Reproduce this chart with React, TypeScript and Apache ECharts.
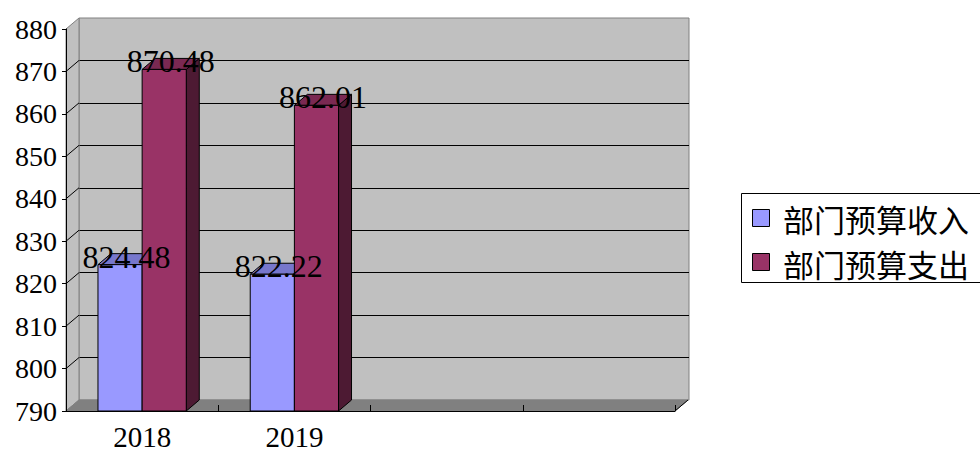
import React, { useEffect, useRef } from "react";
import * as echarts from "echarts";

const categories = ["2018", "2019", "", ""];
const seriesNames = ["部门预算收入", "部门预算支出"];
const incomeValues = [824.48, 822.22];
const expenseValues = [870.48, 862.01];
const wallGridValues = [800, 810, 820, 830, 840, 850, 860, 870];
const Y_MIN = 790;
const Y_MAX = 880;
const Y_STEP = 10;

const DX = 13;
const DY = 11;
const FRONT = { left: 66, top: 29, width: 609, height: 382 };
const SERIF = "Liberation Serif";
const CJK = "Noto Sans CJK SC";

const palette = [
  { front: "#9999FF", top: "#7777CC", side: "#5C5C99" },
  { front: "#993366", top: "#7A2952", side: "#4D1A33" },
];

function barRender(idx: number) {
  return (params: any, api: any) => {
    const cat = api.value(0);
    const v = api.value(1);
    const [cx, yTop] = api.coord([cat, v]);
    const yBase = api.coord([cat, Y_MIN])[1];
    const band = api.size([1, 0])[0];
    const w = band * 0.29;
    const x0 = idx === 0 ? cx - w : cx;
    const c = palette[idx];
    return {
      type: "group",
      children: [
        {
          type: "polygon",
          shape: { points: [[x0 + w, yTop], [x0 + w + DX, yTop - DY], [x0 + w + DX, yBase - DY], [x0 + w, yBase]] },
          style: { fill: c.side, stroke: "#000", lineWidth: 1 },
        },
        {
          type: "polygon",
          shape: { points: [[x0, yTop], [x0 + w, yTop], [x0 + w + DX, yTop - DY], [x0 + DX, yTop - DY]] },
          style: { fill: c.top, stroke: "#000", lineWidth: 1 },
        },
        {
          type: "rect",
          shape: { x: x0, y: yTop, width: w, height: yBase - yTop },
          style: { fill: c.front, stroke: "#000", lineWidth: 1 },
        },
      ],
    };
  };
}

function labelRender(idx: number) {
  return (params: any, api: any) => {
    const cat = api.value(0);
    const v = api.value(1);
    const [cx, yTop] = api.coord([cat, v]);
    const band = api.size([1, 0])[0];
    const w = band * 0.29;
    const x0 = idx === 0 ? cx - w : cx;
    return {
      type: "text",
      x: x0 + w / 2 + DX / 2,
      y: yTop - 8,
      style: {
        text: v.toFixed(2),
        fill: "#000",
        fontSize: 32,
        fontFamily: SERIF,
        align: "center",
        verticalAlign: "middle",
      },
    };
  };
}

export default function App() {
  const ref = useRef<HTMLDivElement>(null);
  useEffect(() => {
    if (!ref.current) return;
    const chart = echarts.init(ref.current, undefined, { renderer: "svg" });
    const seriesData = [incomeValues, expenseValues];
    const option: any = {
      animation: false,
      backgroundColor: "#fff",
      grid: [
        {
          left: FRONT.left,
          top: FRONT.top,
          width: FRONT.width,
          height: FRONT.height,
          outerBoundsMode: "none",
          containLabel: false,
        },
        {
          left: FRONT.left + DX,
          top: FRONT.top - DY,
          width: FRONT.width + 1,
          height: FRONT.height,
          outerBoundsMode: "none",
          containLabel: false,
          show: true,
          backgroundColor: "#C0C0C0",
          borderColor: "#808080",
          borderWidth: 1,
          z: 0,
        },
      ],
      xAxis: [
        {
          type: "category",
          gridIndex: 0,
          data: categories,
          z: 5,
          axisLine: { show: true, lineStyle: { color: "#000", width: 1 } },
          axisTick: { show: true, inside: true, length: 6, lineStyle: { color: "#000" } },
          axisLabel: { color: "#000", fontSize: 29, fontFamily: SERIF, margin: 11 },
          splitLine: { show: false },
        },
        { type: "value", gridIndex: 1, show: false, min: 0, max: 1 },
      ],
      yAxis: [
        {
          type: "value",
          gridIndex: 0,
          min: Y_MIN,
          max: Y_MAX,
          interval: Y_STEP,
          z: 5,
          axisLine: { show: true, lineStyle: { color: "#000", width: 1 } },
          axisTick: { show: true, length: 4, lineStyle: { color: "#000" } },
          axisLabel: { color: "#000", fontSize: 28, fontFamily: SERIF, margin: 9 },
          splitLine: { show: false },
        },
        {
          type: "value",
          gridIndex: 1,
          min: Y_MIN,
          max: Y_MAX,
          interval: Y_STEP,
          axisLine: { show: false },
          axisTick: { show: false },
          axisLabel: { show: false },
          splitLine: { show: true, showMinLine: false, showMaxLine: false, lineStyle: { color: "#000", width: 1 } },
        },
      ],
      series: [
        {
          type: "custom",
          name: "walls",
          xAxisIndex: 0,
          yAxisIndex: 0,
          z: 1,
          silent: true,
          data: [[0, Y_MIN]],
          renderItem: (params: any) => {
            const cs = params.coordSys;
            const left = cs.x;
            const right = cs.x + cs.width;
            const top = cs.y;
            const bottom = cs.y + cs.height;
            return {
              type: "group",
              children: [
                {
                  type: "polygon",
                  shape: { points: [[left, top], [left + DX, top - DY], [left + DX, bottom - DY], [left, bottom]] },
                  style: { fill: "#C0C0C0", stroke: "#808080", lineWidth: 1 },
                },
                {
                  type: "polygon",
                  shape: { points: [[left, bottom], [left + DX, bottom - DY], [right + DX, bottom - DY], [right, bottom]] },
                  style: { fill: "#808080", stroke: "#808080", lineWidth: 1 },
                },
                {
                  type: "line",
                  shape: { x1: right, y1: bottom, x2: right + DX, y2: bottom - DY },
                  style: { stroke: "#000", lineWidth: 1 },
                },
              ],
            };
          },
        },
        {
          type: "custom",
          name: "wallGrid",
          xAxisIndex: 0,
          yAxisIndex: 0,
          z: 1,
          silent: true,
          data: wallGridValues.map((v) => [0, v]),
          renderItem: (params: any, api: any) => {
            const x = params.coordSys.x;
            const y = api.coord([0, api.value(1)])[1];
            return {
              type: "line",
              shape: { x1: x, y1: y, x2: x + DX, y2: y - DY },
              style: { stroke: "#000", lineWidth: 1 },
            };
          },
        },
        ...seriesData.map((vals, i) => ({
          type: "custom",
          name: seriesNames[i],
          xAxisIndex: 0,
          yAxisIndex: 0,
          z: 3 + i,
          data: vals.map((v, j) => [j, v]),
          renderItem: barRender(i),
        })),
        ...seriesData.map((vals, i) => ({
          type: "custom",
          name: seriesNames[i] + "-label",
          xAxisIndex: 0,
          yAxisIndex: 0,
          z: 10,
          silent: true,
          data: vals.map((v, j) => [j, v]),
          renderItem: labelRender(i),
        })),
      ],
      graphic: [
        {
          type: "rect",
          shape: { x: 741.5, y: 193.5, width: 240, height: 89 },
          style: { fill: "#fff", stroke: "#000", lineWidth: 1 },
          z: 20,
        },
        ...seriesNames.map((name, i) => ({
          type: "rect",
          shape: { x: 752.5, y: 209.5 + i * 44, width: 17, height: 17 },
          style: { fill: palette[i].front, stroke: "#000", lineWidth: 1 },
          z: 21,
        })),
        ...seriesNames.map((name, i) => ({
          type: "text",
          x: 783,
          y: 218 + i * 45,
          style: {
            text: name,
            fill: "#000",
            fontSize: 31,
            fontFamily: CJK,
            verticalAlign: "middle",
            align: "left",
          },
          z: 21,
        })),
      ],
    };
    chart.setOption(option);
    return () => chart.dispose();
  }, []);
  return (
    <div
      ref={ref}
      style={{ position: "absolute", left: 0, top: 0, width: 980, height: 451, background: "#fff" }}
    />
  );
}
